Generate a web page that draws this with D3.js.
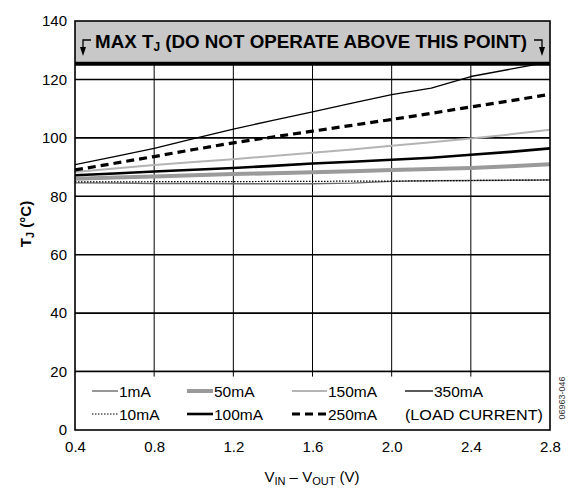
<!DOCTYPE html>
<html>
<head>
<meta charset="utf-8">
<script src="https://cdn.jsdelivr.net/npm/d3@7"></script>
<style>
  html, body { margin: 0; padding: 0; background: #fff; }
  svg { display: block; font-family: "Liberation Sans", Arial, sans-serif; }
</style>
</head>
<body>
<svg id="chart" width="569" height="488"></svg>
<script>
// Junction temperature vs. headroom voltage, one trace per load current
const vDrop = [0.4, 0.6, 0.8, 1.0, 1.2, 1.4, 1.6, 1.8, 2.0, 2.2, 2.4, 2.6, 2.8];
const tj1mA   = [84.6, 84.5, 84.4, 84.4, 84.3, 84.3, 84.3, 84.5, 85.1, 85.3, 85.4, 85.5, 85.6];
const tj10mA  = [84.9, 84.9, 85.0, 85.0, 85.0, 85.1, 85.1, 85.2, 85.2, 85.3, 85.4, 85.5, 85.6];
const tj50mA  = [86.0, 86.4, 86.8, 87.2, 87.6, 87.9, 88.2, 88.6, 89.0, 89.3, 89.7, 90.3, 91.0];
const tj100mA = [87.2, 87.8, 88.5, 89.1, 89.7, 90.4, 91.2, 91.8, 92.5, 93.2, 94.2, 95.2, 96.4];
const tj150mA = [88.3, 89.5, 90.7, 91.7, 92.7, 93.8, 94.9, 96.0, 97.3, 98.5, 99.8, 101.2, 102.8];
const tj250mA = [89.0, 91.3, 93.6, 96.0, 98.3, 100.3, 102.3, 104.3, 106.3, 108.4, 110.6, 112.7, 114.9];
const tj350mA = [90.8, 93.6, 96.4, 99.7, 103.0, 106.0, 108.9, 111.9, 114.8, 117.0, 121.0, 123.5, 126.0];

const xTicks = [0.4, 0.8, 1.2, 1.6, 2.0, 2.4, 2.8];
const yTicks = [0, 20, 40, 60, 80, 100, 120, 140];
const maxTj = 125;

const series = [
  { name: "1mA",   values: tj1mA,   color: "#6a6a6a", width: 1.4, dash: null },
  { name: "10mA",  values: tj10mA,  color: "#000",    width: 1.2, dash: "1.5,1.5" },
  { name: "50mA",  values: tj50mA,  color: "#9a9a9a", width: 4,   dash: null },
  { name: "100mA", values: tj100mA, color: "#000",    width: 2.6, dash: null },
  { name: "150mA", values: tj150mA, color: "#b4b4b4", width: 2,   dash: null },
  { name: "250mA", values: tj250mA, color: "#000",    width: 3.2, dash: "8,5" },
  { name: "350mA", values: tj350mA, color: "#000",    width: 1.3, dash: null }
];

const svg = d3.select("#chart");
const plotL = 75, plotR = 550, plotT = 21, plotB = 430;

const x = d3.scaleLinear().domain([0.4, 2.8]).range([plotL, plotR]);
const y = d3.scaleLinear().domain([0, 140]).range([plotB, plotT]);

// clip region for the traces
svg.append("defs").append("clipPath").attr("id", "plotClip")
  .append("rect").attr("x", plotL).attr("y", plotT).attr("width", plotR - plotL).attr("height", plotB - plotT);

// vertical grid
svg.append("g").selectAll("line").data(xTicks.slice(1, -1)).join("line")
  .attr("x1", d => x(d)).attr("x2", d => x(d))
  .attr("y1", y(140)).attr("y2", y(20))
  .attr("stroke", "#000").attr("stroke-width", 1);

// horizontal grid
svg.append("g").selectAll("line").data([20, 40, 60, 80, 100, 120]).join("line")
  .attr("x1", plotL).attr("x2", plotR)
  .attr("y1", d => y(d)).attr("y2", d => y(d))
  .attr("stroke", "#000").attr("stroke-width", 1.6);

// traces
const line = d3.line().x((d, i) => x(vDrop[i])).y(d => y(d));
const traces = svg.append("g").attr("clip-path", "url(#plotClip)");
series.forEach(s => {
  traces.append("path")
    .attr("d", line(s.values))
    .attr("fill", "none")
    .attr("stroke", s.color)
    .attr("stroke-width", s.width)
    .attr("stroke-dasharray", s.dash)
    .attr("stroke-linejoin", "round");
});

// "do not operate" band above the max junction temperature
svg.append("rect")
  .attr("x", plotL).attr("y", y(140))
  .attr("width", plotR - plotL).attr("height", y(maxTj) - y(140))
  .attr("fill", "#c8c8c8");
svg.append("line")
  .attr("x1", plotL).attr("x2", plotR)
  .attr("y1", y(maxTj) - 1).attr("y2", y(maxTj) - 1)
  .attr("stroke", "#000").attr("stroke-width", 4);

const bandText = svg.append("text")
  .attr("x", 95).attr("y", 48)
  .attr("textLength", 432).attr("lengthAdjust", "spacingAndGlyphs")
  .attr("font-size", 19).attr("font-weight", "bold");
bandText.append("tspan").text("MAX T");
bandText.append("tspan").attr("font-size", 12).attr("dy", 3).text("J");
bandText.append("tspan").attr("dy", -3).text(" (DO NOT OPERATE ABOVE THIS POINT)");

// bracket arrows pointing down to the limit line
function bracketArrow(xTip, dir) {
  const yTop = 40, yTip = 56;
  svg.append("path")
    .attr("d", `M${xTip + dir * 8},${yTop} H${xTip} V${yTip - 7}`)
    .attr("fill", "none").attr("stroke", "#000").attr("stroke-width", 1.3);
  svg.append("path")
    .attr("d", `M${xTip - 3},${yTip - 9} L${xTip + 3},${yTip - 9} L${xTip},${yTip} Z`)
    .attr("fill", "#000");
}
bracketArrow(83, 1);
bracketArrow(542, -1);

// legend panel occupying the 0–20 band
svg.append("rect")
  .attr("x", plotL).attr("y", y(20))
  .attr("width", plotR - plotL).attr("height", y(0) - y(20))
  .attr("fill", "#fff");
svg.append("g").selectAll("line").data(xTicks.slice(1, -1)).join("line")
  .attr("x1", d => x(d)).attr("x2", d => x(d))
  .attr("y1", y(20)).attr("y2", y(20) + 5)
  .attr("stroke", "#000").attr("stroke-width", 1);
svg.append("line")
  .attr("x1", plotL).attr("x2", plotR)
  .attr("y1", y(20)).attr("y2", y(20))
  .attr("stroke", "#000").attr("stroke-width", 1.6);

const legendCols = [92, 187, 292, 405];
const legendRows = [391, 414];
const legendLayout = [
  { s: "1mA", col: 0, row: 0 }, { s: "50mA", col: 1, row: 0 },
  { s: "150mA", col: 2, row: 0 }, { s: "350mA", col: 3, row: 0 },
  { s: "10mA", col: 0, row: 1 }, { s: "100mA", col: 1, row: 1 },
  { s: "250mA", col: 2, row: 1 }
];
const sampleLen = [26, 26, 35, 28];
legendLayout.forEach(item => {
  const s = series.find(d => d.name === item.s);
  const x0 = legendCols[item.col], yy = legendRows[item.row];
  const len = sampleLen[item.col];
  svg.append("line")
    .attr("x1", x0).attr("x2", x0 + len)
    .attr("y1", yy).attr("y2", yy)
    .attr("stroke", s.color).attr("stroke-width", s.width)
    .attr("stroke-dasharray", s.dash);
  svg.append("text")
    .attr("x", x0 + len + 1).attr("y", yy + 5.5)
    .attr("font-size", 15.5).text(s.name);
});
svg.append("text")
  .attr("x", 405).attr("y", legendRows[1] + 5.5)
  .attr("font-size", 15.5).attr("textLength", 138).attr("lengthAdjust", "spacingAndGlyphs")
  .text("(LOAD CURRENT)");

// plot frame
svg.append("rect")
  .attr("x", plotL).attr("y", plotT)
  .attr("width", plotR - plotL).attr("height", plotB - plotT)
  .attr("fill", "none").attr("stroke", "#000").attr("stroke-width", 1.6);

// axes (labels only)
const xAxis = svg.append("g").attr("transform", `translate(0,${plotB})`)
  .call(d3.axisBottom(x).tickValues(xTicks).tickFormat(d3.format(".1f")).tickSize(0).tickPadding(11));
const yAxis = svg.append("g").attr("transform", `translate(${plotL},0)`)
  .call(d3.axisLeft(y).tickValues(yTicks).tickFormat(d3.format("d")).tickSize(0).tickPadding(8));
[xAxis, yAxis].forEach(g => {
  g.select(".domain").remove();
  g.selectAll("text").attr("font-size", 15).attr("fill", "#000")
    .attr("font-family", "'Liberation Sans', Arial, sans-serif");
});

// axis titles
const xt = svg.append("text").attr("x", 312).attr("y", 482)
  .attr("text-anchor", "middle").attr("font-size", 15);
xt.append("tspan").text("V");
xt.append("tspan").attr("font-size", 11).attr("dy", 3).text("IN");
xt.append("tspan").attr("dy", -3).text(" – V");
xt.append("tspan").attr("font-size", 11).attr("dy", 3).text("OUT");
xt.append("tspan").attr("dy", -3).text(" (V)");

const yt = svg.append("text")
  .attr("transform", "translate(31,224) rotate(-90)")
  .attr("text-anchor", "middle").attr("font-size", 15).attr("font-weight", "bold");
yt.append("tspan").text("T");
yt.append("tspan").attr("font-size", 11).attr("dy", 3).text("J");
yt.append("tspan").attr("dy", -3).text(" (°C)");

// figure number
svg.append("text")
  .attr("transform", "translate(565,398) rotate(-90)")
  .attr("text-anchor", "middle").attr("font-size", 9).attr("fill", "#333")
  .text("06963-046");
</script>
</body>
</html>
